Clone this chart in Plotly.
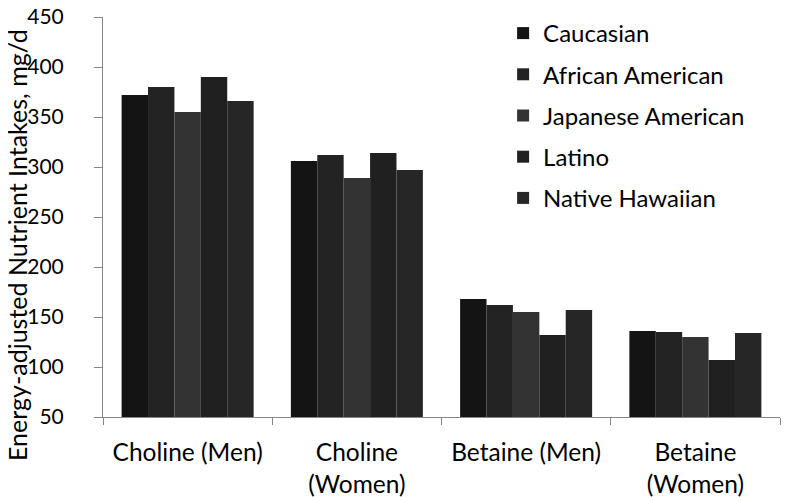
import plotly.graph_objects as go

categories = ["Choline (Men)", "Choline<br>(Women)", "Betaine (Men)", "Betaine<br>(Women)"]
series_names = ["Caucasian", "African American", "Japanese American", "Latino", "Native Hawaiian"]
caucasian = [372, 306, 168, 136]
african_american = [380, 312, 162, 135]
japanese_american = [355, 289, 155, 130]
latino = [390, 314, 132, 107]
native_hawaiian = [366, 297, 157, 134]
series_values = [caucasian, african_american, japanese_american, latino, native_hawaiian]
colors = ["#141414", "#232323", "#333333", "#202020", "#262626"]
y_ticks = [50, 100, 150, 200, 250, 300, 350, 400, 450]
y_title = "Energy-adjusted Nutrient Intakes, mg/d"

FONT = "Lato"

fig = go.Figure()
for i, (name, vals) in enumerate(zip(series_names, series_values)):
    fig.add_trace(go.Bar(
        x=categories, y=vals, name=name,
        marker=dict(color=colors[i], line=dict(width=0)),
        legendgroup=f"g{i}",
    ))

fig.update_layout(
    width=797, height=497,
    margin=dict(l=95, r=25, t=9, b=88, autoexpand=False),
    paper_bgcolor="white", plot_bgcolor="white",
    barmode="group", bargap=0.22, bargroupgap=0,
    font=dict(family=FONT, size=24, color="black"),
    showlegend=True,
    legend=dict(
        x=0.591, y=1.015, xanchor="left", yanchor="top",
        traceorder="grouped", tracegroupgap=7,
        font=dict(family=FONT, size=24, color="black"),
        bgcolor="rgba(0,0,0,0)",
        itemwidth=30,
    ),
    xaxis=dict(
        type="category",
        showline=True, linecolor="#868686", linewidth=1,
        ticks="outside", tickson="boundaries", ticklen=7, tickcolor="#868686",
        tickfont=dict(family=FONT, size=24.5, color="black"),
        ticklabelstandoff=14,
        showgrid=False, zeroline=False, automargin=False,
    ),
    yaxis=dict(
        range=[50, 450],
        tickvals=y_ticks,
        ticktext=[str(v) for v in y_ticks],
        showline=True, linecolor="#868686", linewidth=1,
        ticks="outside", ticklen=8, tickcolor="#868686",
        tickfont=dict(family=FONT, size=21, color="black"),
        ticklabelstandoff=26, ticklabeloverflow="allow",
        showgrid=False, zeroline=False, automargin=False,
    ),
    annotations=[dict(
        text=y_title, textangle=-90,
        xref="paper", yref="paper", x=-0.127, y=0.43,
        xanchor="center", yanchor="middle", showarrow=False,
        font=dict(family=FONT, size=25, color="black"),
    )],
)

fig.write_html("out.html")
